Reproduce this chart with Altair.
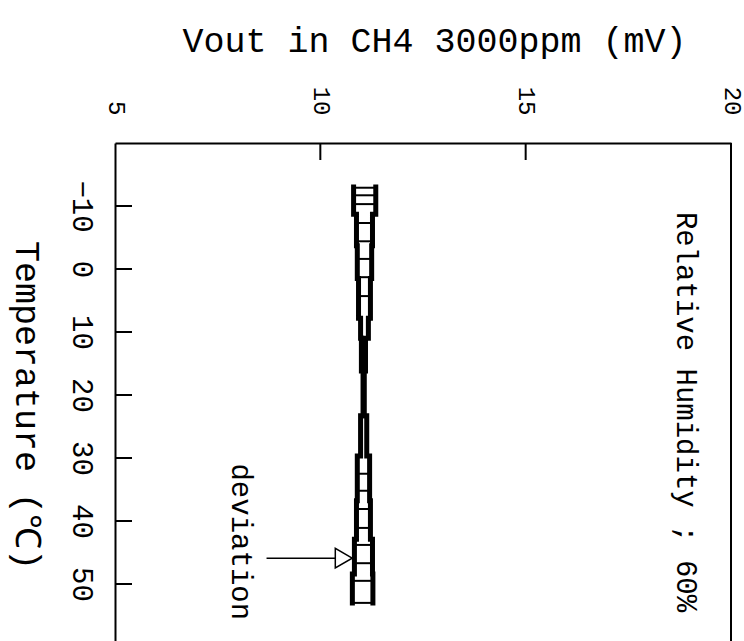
import altair as alt
import pandas as pd

# ---- data ----
vout_ticks = [5, 10, 15, 20]
temp_ticks = [-10, 0, 10, 20, 30, 40, 50]
inner_vout_ticks = [10, 15]

# step segments of the deviation band (temperature range, low / high Vout)
seg_start = [-13.0, -8.7, -3.7, 1.5, 7.8, 11.0, 16.2, 23.3, 29.7, 36.8, 42.9, 48.4]
seg_end = [-8.7, -3.7, 1.5, 7.8, 11.0, 16.2, 23.3, 29.7, 36.8, 42.9, 48.4, 53.0]
seg_low = [10.81, 10.88, 10.90, 10.93, 10.98, 11.00, 11.04, 10.98, 10.90, 10.88, 10.83, 10.78]
seg_high = [11.35, 11.27, 11.25, 11.22, 11.17, 11.10, 11.07, 11.13, 11.20, 11.22, 11.27, 11.28]

# temperatures of the cross bars
bar_temps = [-12.9, -11.7, -10.3, -7.3, -4.4, -1.6, 1.3, 4.3,
             32.5, 35.2, 38.1, 41.1, 43.8, 46.7, 49.5, 53.0]

# annotations
rh_text = "Relative Humidity ; 60%"
rh_pos = (18.9, 22.7)
dev_text = "deviation"
dev_pos = (8.08, 43.3)
arrow_from = 8.69
arrow_to = 10.36
arrow_t = 45.9
arrow_tip = 10.57

W, H = 616, 498
FONT = "Liberation Mono"

# ---- tables ----
rows = []
idx = 0
for s, e, lo, hi in zip(seg_start, seg_end, seg_low, seg_high):
    rows.append({"side": "low", "t": s, "v": lo, "idx": idx}); idx += 1
    rows.append({"side": "low", "t": e, "v": lo, "idx": idx}); idx += 1
    rows.append({"side": "high", "t": s, "v": hi, "idx": idx}); idx += 1
    rows.append({"side": "high", "t": e, "v": hi, "idx": idx}); idx += 1
band = pd.DataFrame(rows)

bars = []
for bt in bar_temps:
    for s, e, lo, hi in zip(seg_start, seg_end, seg_low, seg_high):
        if s <= bt <= e:
            bars.append({"t": bt, "lo": lo, "hi": hi})
            break
bars = pd.DataFrame(bars)

xs = alt.Scale(domain=[5, 20], nice=False, zero=False)
ys = alt.Scale(domain=[-20, 59.05], nice=False, zero=False, reverse=True)

x_axis = alt.Axis(
    orient="top", values=vout_ticks, labelAngle=90, labelAlign="right",
    labelBaseline="middle", labelPadding=28, labelFlush=False, labelOverlap=False,
    ticks=False, grid=False, domainColor="black", domainWidth=2,
    labelFont=FONT, labelFontSize=24, labelColor="black",
    title="Vout in CH4 3000ppm (mV)", titleFont=FONT, titleFontSize=35,
    titleFontWeight="normal", titleColor="black", titleAngle=0,
    titleX=319, titleY=-103, titleAlign="center", titleBaseline="middle",
)
y_axis = alt.Axis(
    orient="left", values=temp_ticks, labelAngle=90, labelAlign="center",
    labelBaseline="middle", labelPadding=34, labelFlush=False, labelOverlap=False,
    ticks=False, grid=False, domainColor="black", domainWidth=2,
    labelFont=FONT, labelFontSize=29, labelColor="black",
    title="Temperature (℃)", titleFont=FONT, titleFontSize=35,
    titleFontWeight="normal", titleColor="black", titleAngle=90,
    titleX=-89, titleY=262, titleAlign="center", titleBaseline="middle",
)

lines = alt.Chart(band).mark_line(color="black", strokeWidth=5, strokeCap="square").encode(
    x=alt.X("v:Q", scale=xs, axis=x_axis),
    y=alt.Y("t:Q", scale=ys, axis=y_axis),
    detail="side:N",
    order="idx:Q",
)

crossbars = alt.Chart(bars).mark_rule(color="black", strokeWidth=2).encode(
    x=alt.X("lo:Q", scale=xs),
    x2="hi:Q",
    y=alt.Y("t:Q", scale=ys),
)

tticks = alt.Chart(pd.DataFrame({"t": temp_ticks})).mark_rule(color="black", strokeWidth=2).encode(
    y=alt.Y("t:Q", scale=ys),
    x=alt.value(0), x2=alt.value(17),
)
vticks = alt.Chart(pd.DataFrame({"v": inner_vout_ticks})).mark_rule(color="black", strokeWidth=2).encode(
    x=alt.X("v:Q", scale=xs),
    y=alt.value(0), y2=alt.value(17),
)
right_border = alt.Chart(pd.DataFrame({"v": [vout_ticks[-1]]})).mark_rule(color="black", strokeWidth=2).encode(
    x=alt.X("v:Q", scale=xs),
    y=alt.value(0), y2=alt.value(H),
)

ann = pd.DataFrame({
    "v": [rh_pos[0], dev_pos[0]],
    "t": [rh_pos[1], dev_pos[1]],
    "label": [rh_text, dev_text],
})
texts = alt.Chart(ann).mark_text(
    angle=90, font=FONT, fontSize=29, align="center", baseline="middle", color="black"
).encode(
    x=alt.X("v:Q", scale=xs),
    y=alt.Y("t:Q", scale=ys),
    text="label:N",
)

arrow_df = pd.DataFrame({"a": [arrow_from], "b": [arrow_to], "t": [arrow_t], "tip": [arrow_tip]})
shaft = alt.Chart(arrow_df).mark_rule(color="black", strokeWidth=1.5).encode(
    x=alt.X("a:Q", scale=xs), x2="b:Q", y=alt.Y("t:Q", scale=ys),
)
head = alt.Chart(arrow_df).mark_point(
    shape="triangle-right", filled=False, size=380, stroke="black", strokeWidth=1.5, opacity=1
).encode(
    x=alt.X("tip:Q", scale=xs), y=alt.Y("t:Q", scale=ys),
)

chart = alt.layer(lines, crossbars, tticks, vticks, right_border, texts, shaft, head).properties(
    width=W, height=H,
    autosize=alt.AutoSizeParams(type="none"),
    padding={"left": 115, "top": 143, "right": 13, "bottom": 0},
    background="white",
).configure_view(strokeWidth=0)

chart.save("out.html", embed_options={"renderer": "svg", "actions": False})
